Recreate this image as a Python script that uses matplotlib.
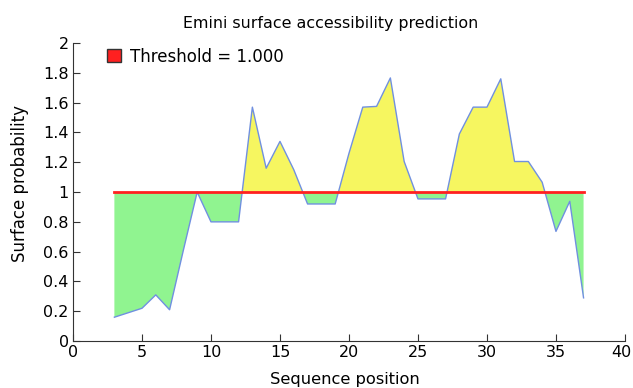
import numpy as np
import matplotlib
matplotlib.use("Agg")
import matplotlib.pyplot as plt
from matplotlib.patches import Patch
from matplotlib.transforms import ScaledTranslation

# sequence position vs. Emini surface probability
pos = list(range(3, 38))
prob = [0.16, 0.19, 0.22, 0.31, 0.21, 0.61, 1.00, 0.80, 0.80, 0.80,
        1.57, 1.16, 1.34, 1.15, 0.92, 0.92, 0.92, 1.26, 1.57, 1.575,
        1.766, 1.205, 0.954, 0.954, 0.954, 1.39, 1.57, 1.57, 1.76, 1.205,
        1.205, 1.066, 0.736, 0.938, 0.29]
threshold = 1.0

plt.rcParams['font.family'] = ['DejaVu Sans']

x = np.array(pos)
y = np.array(prob)

fig = plt.figure(figsize=(6.33, 3.88), dpi=100)
ax = fig.add_axes([0.1153, 0.121, 0.872, 0.768])

ax.fill_between(x, y, threshold, where=y >= threshold, interpolate=True,
                color='#f6f660', linewidth=0)
ax.fill_between(x, y, threshold, where=y <= threshold, interpolate=True,
                color='#90f490', linewidth=0)
ax.plot(x, y, color='#7090e0', linewidth=1)
ax.plot([x[0], x[-1]], [threshold, threshold], color='#ff2020', linewidth=2)

leg = ax.legend(handles=[Patch(facecolor='#ff2020', edgecolor='#333333',
                               label='Threshold = %.3f' % threshold)],
                loc='upper left', bbox_to_anchor=(0.035, 1.035), frameon=False,
                fontsize=12, handlelength=0.84, handleheight=0.84, handletextpad=0.5)

ax.set_xlim(0, 40)
ax.set_ylim(0, 2)
ax.set_xticks(range(0, 41, 5))
ax.set_yticks(np.arange(0, 2.01, 0.2))
ax.set_yticklabels(['0', '0.2', '0.4', '0.6', '0.8', '1', '1.2', '1.4', '1.6', '1.8', '2'])
ax.tick_params(direction='in', length=5, labelsize=11.5, color='#333333', pad=3)
for s in ['top', 'right']:
    ax.spines[s].set_visible(False)
for s in ['left', 'bottom']:
    ax.spines[s].set_color('#333333')

# last x label nudged left so it fits
lab = ax.get_xticklabels()[-1]
lab.set_transform(lab.get_transform() + ScaledTranslation(-0.04, 0, fig.dpi_scale_trans))

ax.set_title('Emini surface accessibility prediction', fontsize=11.4, x=0.466, pad=11)
ax.set_xlabel('Sequence position', fontsize=11.7)
ax.xaxis.set_label_coords(0.493, -0.105)
ax.set_ylabel('Surface probability', fontsize=12)
ax.yaxis.set_label_coords(-0.08, 0.53)

fig.savefig('out.png', dpi=100)
